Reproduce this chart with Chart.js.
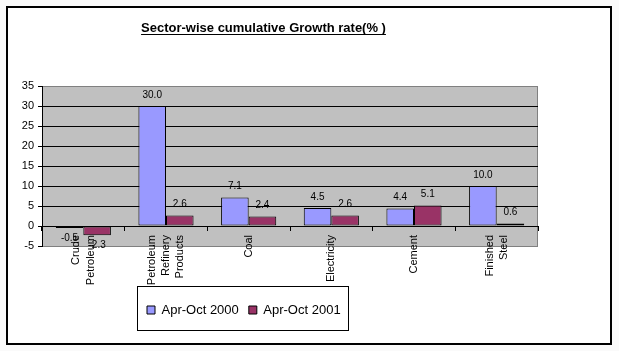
<!DOCTYPE html>
<html>
<head>
<meta charset="utf-8">
<script src="https://cdn.jsdelivr.net/npm/chart.js@4"></script>
<style>
  html, body { margin: 0; padding: 0; background: #ffffff; }
  #wrap { width: 619px; height: 351px; position: relative; }
</style>
</head>
<body>
<div id="wrap"><canvas id="c" width="619" height="351"></canvas></div>
<script>
// ---- data ----
const categories = [
  ["Crude", "Petroleum"],
  ["Petroleum", "Refinery", "Products"],
  ["Coal"],
  ["Electricity"],
  ["Cement"],
  ["Finished", "Steel"]
];
const seriesNames = ["Apr-Oct 2000", "Apr-Oct 2001"];
const growth2000 = [-0.5, 30.0, 7.1, 4.5, 4.4, 10.0];
const growth2001 = [-2.3, 2.6, 2.4, 2.6, 5.1, 0.6];
const titleText = "Sector-wise cumulative Growth rate(% )";

// ---- layout constants ----
const FONT = "Arial, 'Liberation Sans', sans-serif";
const FRAME = { x: 7, y: 7, w: 604, h: 337 };
const LEGEND_FRAME = { x: 137, y: 286, w: 211, h: 44 };
const TITLE_CENTER_X = 263.5;
const TITLE_CENTER_Y = 28;

const framePlugin = {
  id: 'frame',
  beforeDraw(chart) {
    const ctx = chart.ctx;
    const a = chart.chartArea;
    ctx.save();
    ctx.fillStyle = '#fafafa';
    ctx.fillRect(0, 0, chart.width, chart.height);
    ctx.fillStyle = '#ffffff';
    ctx.fillRect(FRAME.x, FRAME.y, FRAME.w, FRAME.h);
    ctx.strokeStyle = '#000000';
    ctx.lineWidth = 2;
    ctx.strokeRect(FRAME.x, FRAME.y, FRAME.w, FRAME.h);
    // plot area
    ctx.fillStyle = '#c0c0c0';
    ctx.fillRect(a.left, a.top, a.right - a.left, a.bottom - a.top);
    ctx.strokeStyle = '#808080';
    ctx.lineWidth = 1;
    ctx.strokeRect(a.left + 0.5, a.top + 0.5, a.right - a.left - 1, a.bottom - a.top);
    // legend frame
    ctx.strokeStyle = '#000000';
    ctx.lineWidth = 1;
    ctx.strokeRect(LEGEND_FRAME.x + 0.5, LEGEND_FRAME.y + 0.5, LEGEND_FRAME.w, LEGEND_FRAME.h);
    ctx.restore();
  },
  afterLayout(chart) {
    const t = chart.titleBlock;
    if (t) {
      const h = t.height;
      t.left = TITLE_CENTER_X - 200; t.right = TITLE_CENTER_X + 200; t.width = 400;
      t.top = TITLE_CENTER_Y - h / 2; t.bottom = t.top + h;
    }
    const lg = chart.legend;
    if (lg) {
      lg.left = LEGEND_FRAME.x; lg.right = LEGEND_FRAME.x + 260; lg.width = 260;
      lg.top = 293.5; lg.bottom = lg.top + lg.height;
    }
  },
  afterDraw(chart) {
    const ctx = chart.ctx;
    ctx.save();
    ctx.font = 'bold 13px ' + FONT;
    const w = ctx.measureText(titleText).width;
    ctx.strokeStyle = '#000';
    ctx.lineWidth = 1;
    ctx.beginPath();
    ctx.moveTo(TITLE_CENTER_X - w / 2, TITLE_CENTER_Y + 6.5);
    ctx.lineTo(TITLE_CENTER_X + w / 2, TITLE_CENTER_Y + 6.5);
    ctx.stroke();
    ctx.restore();
  }
};

// centre multi-line rotated category labels on their tick
const centerLabelsPlugin = {
  id: 'centerLabels',
  beforeDraw(chart) {
    const s = chart.scales.x;
    const items = s.getLabelItems();
    items.forEach(it => {
      if (it._shifted) return;
      const n = Array.isArray(it.label) ? it.label.length : 1;
      it.options.translation[0] -= (n - 1) * it.font.lineHeight / 2;
      it._shifted = true;
    });
  }
};

const valueLabelsPlugin = {
  id: 'valueLabels',
  afterDatasetsDraw(chart) {
    const ctx = chart.ctx;
    ctx.save();
    ctx.font = '10px ' + FONT;
    ctx.fillStyle = '#000';
    ctx.textAlign = 'center';
    ctx.textBaseline = 'middle';
    chart.data.datasets.forEach((ds, di) => {
      const meta = chart.getDatasetMeta(di);
      meta.data.forEach((bar, i) => {
        const v = ds.data[i];
        const y = v >= 0 ? bar.y - 11 : bar.y + 10;
        ctx.fillText(v.toFixed(1), bar.x, y);
      });
    });
    ctx.restore();
  }
};

new Chart(document.getElementById('c'), {
  type: 'bar',
  data: {
    labels: categories,
    datasets: [
      { label: seriesNames[0], data: growth2000, backgroundColor: '#9999ff', borderColor: '#000', borderWidth: 1, borderSkipped: false },
      { label: seriesNames[1], data: growth2001, backgroundColor: '#993366', borderColor: '#000', borderWidth: 1, borderSkipped: false }
    ]
  },
  options: {
    responsive: false,
    animation: false,
    events: [],
    layout: { padding: { left: 6, right: 81, top: 70.4, bottom: 72 } },
    datasets: { bar: { categoryPercentage: 0.667, barPercentage: 1.0 } },
    scales: {
      x: {
        position: { y: 0 },
        afterFit(scale) { scale.height = 0; },
        grid: { display: true, drawOnChartArea: false, offset: true, tickLength: 4, tickColor: '#000', color: '#000' },
        border: { display: true, color: '#000', width: 1 },
        ticks: {
          autoSkip: false, minRotation: 90, maxRotation: 90, padding: 5,
          color: '#000', font: { family: FONT, size: 11, lineHeight: 1.3 }
        }
      },
      y: {
        min: -5, max: 35,
        afterFit(scale) { scale.width = 36; },
        grid: {
          color: (c) => (c.tick && (c.tick.value === 35 || c.tick.value === -5)) ? '#808080' : '#000',
          tickColor: '#000', tickLength: 4, lineWidth: 1
        },
        border: { display: true, color: '#000', width: 1 },
        ticks: { stepSize: 5, padding: 4, color: '#000', font: { family: FONT, size: 11 } }
      }
    },
    plugins: {
      title: {
        display: true, text: titleText, color: '#000',
        font: { family: FONT, size: 13, weight: 'bold', lineHeight: 1.2 },
        padding: 0
      },
      legend: {
        display: true, position: 'bottom', fullSize: false, align: 'start',
        labels: { boxWidth: 8, boxHeight: 8, padding: 10, color: '#000', font: { family: FONT, size: 13 } }
      },
      tooltip: { enabled: false }
    }
  },
  plugins: [framePlugin, centerLabelsPlugin, valueLabelsPlugin]
});
</script>
</body>
</html>
